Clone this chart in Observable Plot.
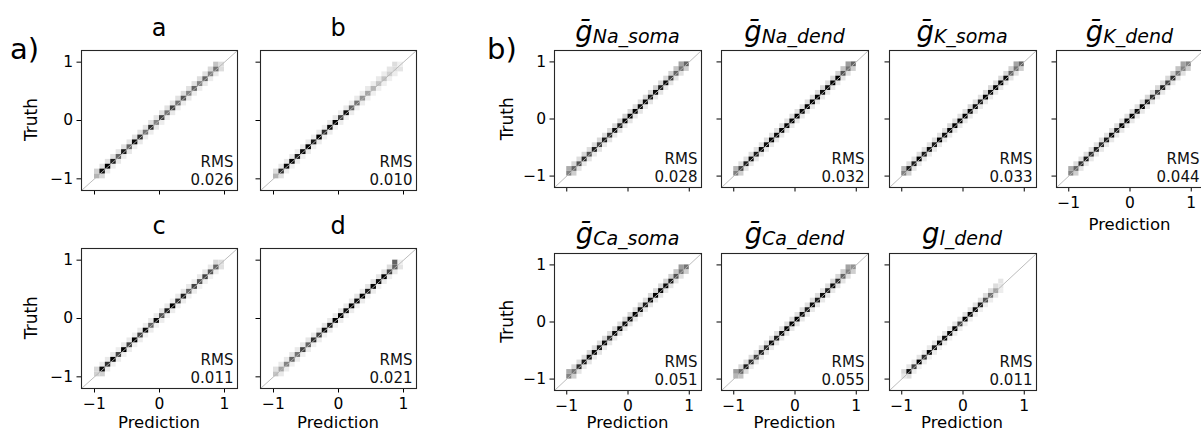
<!DOCTYPE html>
<html><head><meta charset="utf-8">
<script src="https://cdn.jsdelivr.net/npm/d3@7"></script>
<script src="https://cdn.jsdelivr.net/npm/@observablehq/plot@0.6"></script>
<style>
body{margin:0;background:#fff;}
#root{position:relative;width:1201px;height:433px;overflow:hidden;font-family:"DejaVu Sans",sans-serif;color:#000;background:#fff;}
#root .plot{position:absolute;}
#overlay{position:absolute;left:0;top:0;pointer-events:none;}
</style></head><body><div id="root"></div>
<script>
// ---------- data ----------
const panelIds = ["a","b","c","d","Na_soma","Na_dend","K_soma","K_dend","Ca_soma","Ca_dend","l_dend"];
const rmsValues = ["0.026","0.010","0.011","0.021","0.028","0.032","0.033","0.044","0.051","0.055","0.011"];
const tickValues = [-1, 0, 1];
const axisDomain = [-1.2, 1.2];
const histRange = [-1, 1];
const histBins = 24;
// darkness (0 = white, 1 = black) of the cell on the diagonal, bins from -1 to 1
const diagDarkness = [
  [0.35,0.85,1.0,0.8,0.6,0.8,0.6,0.85,0.75,0.55,0.75,0.5,0.7,0.55,0.7,0.55,0.65,0.5,0.6,0.5,0.6,0.5,0.55,0.2],
  [0.35,0.75,0.85,0.95,0.8,0.85,0.95,0.8,0.9,0.75,0.85,0.95,0.7,0.85,0.6,0.55,0.45,0.4,0.35,0.3,0.3,0.25,0.2,0.1],
  [0.25,0.85,0.75,0.9,0.7,0.95,0.7,0.9,0.7,0.85,0.6,0.85,0.65,0.8,0.9,0.75,0.8,0.6,0.7,0.65,0.7,0.65,0.6,0.2],
  [0.3,0.4,0.5,0.6,0.55,0.7,0.6,0.75,0.7,0.85,0.8,0.9,1.0,0.85,0.9,0.85,0.95,0.8,0.9,0.85,0.9,0.7,0.6,0.1],
  [0.5,0.6,0.65,0.75,0.65,0.8,0.7,0.8,0.75,0.85,0.8,0.9,1.0,0.9,0.85,0.85,0.8,0.85,0.8,0.85,0.7,0.6,0.55,0.6],
  [0.5,0.7,0.8,0.85,0.8,0.9,0.85,0.9,0.85,0.9,0.95,0.9,1.0,0.9,1.0,0.9,0.9,0.85,0.85,0.9,1.0,0.65,0.55,0.6],
  [0.5,0.8,0.8,0.9,0.8,0.85,0.8,0.9,0.85,1.0,0.9,0.9,1.0,0.9,0.85,0.8,0.9,0.85,0.9,1.0,0.85,0.6,0.55,0.6],
  [0.5,0.6,0.75,0.8,0.75,0.8,0.75,0.8,0.85,0.8,0.9,0.9,1.0,0.85,0.9,0.8,0.75,0.7,0.8,0.7,0.75,0.55,0.5,0.5],
  [0.5,0.55,0.75,0.8,0.85,1.0,0.8,0.85,0.75,0.85,1.0,0.85,0.85,1.0,0.85,0.8,0.85,0.9,1.0,0.85,0.8,0.65,0.55,0.55],
  [0.35,0.6,0.8,0.75,0.7,0.8,0.75,0.85,0.8,0.85,0.9,1.0,0.9,0.85,0.8,0.85,0.8,0.85,0.8,0.85,0.75,0.6,0.5,0.45],
  [0.15,0.85,0.7,0.9,0.75,0.95,0.8,0.95,0.85,0.9,0.95,0.7,0.95,0.9,0.85,0.8,0.65,0.55,0.4,0.15,0,0,0,0]
];
// darkness of the cell just above the diagonal (truth one bin higher than prediction)
const aboveDarkness = [
  [0.25,0.18,0.18,0.18,0.16,0.18,0.16,0.18,0.18,0.16,0.18,0.16,0.18,0.18,0.16,0.18,0.2,0.18,0.18,0.2,0.18,0.22,0.3,0],
  [0.2,0.14,0.14,0.14,0.12,0.14,0.14,0.12,0.14,0.12,0.14,0.14,0.12,0.14,0.12,0.14,0.12,0.14,0.12,0.14,0.12,0.16,0.2,0],
  [0.22,0.14,0.14,0.14,0.12,0.14,0.14,0.12,0.14,0.12,0.14,0.14,0.16,0.14,0.12,0.14,0.16,0.14,0.12,0.14,0.16,0.14,0.22,0],
  [0.18,0.14,0.14,0.16,0.14,0.14,0.16,0.14,0.14,0.16,0.14,0.14,0.16,0.14,0.14,0.16,0.14,0.16,0.18,0.16,0.18,0.2,0.6,0],
  [0.38,0.22,0.2,0.22,0.2,0.2,0.22,0.2,0.2,0.22,0.22,0.25,0.22,0.2,0.2,0.22,0.22,0.25,0.22,0.22,0.25,0.3,0.4,0],
  [0.35,0.2,0.18,0.2,0.18,0.18,0.2,0.18,0.18,0.2,0.18,0.2,0.18,0.18,0.2,0.18,0.2,0.22,0.2,0.22,0.25,0.3,0.42,0],
  [0.35,0.2,0.18,0.2,0.18,0.18,0.2,0.18,0.2,0.22,0.2,0.18,0.2,0.22,0.2,0.18,0.22,0.22,0.2,0.22,0.22,0.25,0.4,0],
  [0.38,0.2,0.18,0.2,0.18,0.18,0.2,0.18,0.18,0.2,0.18,0.18,0.2,0.18,0.2,0.22,0.2,0.22,0.2,0.22,0.25,0.3,0.4,0],
  [0.38,0.22,0.2,0.2,0.22,0.2,0.2,0.22,0.2,0.22,0.2,0.22,0.22,0.2,0.22,0.2,0.22,0.22,0.22,0.25,0.25,0.3,0.42,0],
  [0.42,0.22,0.2,0.2,0.18,0.2,0.2,0.18,0.2,0.18,0.2,0.2,0.18,0.2,0.18,0.2,0.2,0.18,0.2,0.22,0.22,0.25,0.4,0],
  [0.22,0.16,0.14,0.16,0.14,0.14,0.16,0.14,0.16,0.14,0.16,0.14,0.18,0.16,0.18,0.18,0.2,0.2,0.2,0.16,0,0,0,0]
];
// darkness of the cell just below the diagonal (prediction one bin higher than truth)
const belowDarkness = [
  [0.22,0.14,0.12,0.14,0.12,0.14,0.12,0.14,0.12,0.12,0.14,0.12,0.12,0.14,0.12,0.12,0.14,0.12,0.12,0.14,0.12,0.14,0.2,0],
  [0.18,0.12,0.1,0.12,0.1,0.12,0.1,0.12,0.1,0.12,0.1,0.12,0.1,0.12,0.1,0.12,0.1,0.1,0.1,0.1,0.1,0.12,0.16,0],
  [0.25,0.12,0.1,0.12,0.1,0.12,0.1,0.12,0.1,0.12,0.1,0.12,0.1,0.12,0.1,0.12,0.1,0.12,0.1,0.1,0.1,0.12,0.18,0],
  [0.14,0.12,0.1,0.12,0.1,0.12,0.1,0.12,0.1,0.12,0.1,0.12,0.1,0.12,0.1,0.12,0.1,0.12,0.1,0.12,0.12,0.14,0.16,0],
  [0.26,0.16,0.14,0.16,0.14,0.16,0.14,0.16,0.14,0.16,0.14,0.16,0.14,0.16,0.14,0.16,0.14,0.16,0.14,0.16,0.16,0.18,0.26,0],
  [0.26,0.16,0.14,0.14,0.14,0.14,0.14,0.14,0.14,0.14,0.14,0.14,0.14,0.14,0.14,0.14,0.14,0.14,0.14,0.14,0.16,0.18,0.26,0],
  [0.26,0.16,0.14,0.14,0.14,0.14,0.14,0.14,0.14,0.14,0.14,0.14,0.14,0.14,0.14,0.14,0.14,0.14,0.14,0.14,0.16,0.18,0.26,0],
  [0.26,0.16,0.14,0.14,0.14,0.14,0.14,0.14,0.14,0.14,0.14,0.14,0.14,0.14,0.14,0.14,0.14,0.14,0.14,0.14,0.16,0.18,0.26,0],
  [0.26,0.16,0.14,0.16,0.14,0.16,0.14,0.16,0.14,0.16,0.14,0.16,0.14,0.16,0.14,0.16,0.14,0.16,0.14,0.16,0.16,0.18,0.26,0],
  [0.3,0.2,0.14,0.16,0.14,0.16,0.14,0.16,0.14,0.16,0.14,0.16,0.14,0.16,0.14,0.16,0.14,0.16,0.14,0.16,0.16,0.18,0.26,0],
  [0.2,0.12,0.1,0.12,0.1,0.12,0.1,0.12,0.1,0.12,0.1,0.12,0.1,0.12,0.1,0.12,0.12,0.14,0.12,0,0,0,0,0]
];

// ---------- layout ----------
const LW = 156, LH = 140, RW = 147, RH = 137;
const layout = {
  a:{x:81,y:49.5,w:LW,h:LH,yl:true,xl:false},
  b:{x:260,y:49.5,w:LW,h:LH,yl:false,xl:false},
  c:{x:81,y:247.7,w:LW,h:LH,yl:true,xl:true},
  d:{x:260,y:247.7,w:LW,h:LH,yl:false,xl:true},
  Na_soma:{x:554,y:50.3,w:RW,h:RH,yl:true,xl:false,bar:true},
  Na_dend:{x:721,y:50.3,w:RW,h:RH,yl:false,xl:false,bar:true},
  K_soma:{x:888.5,y:50.3,w:RW,h:RH,yl:false,xl:false,bar:true},
  K_dend:{x:1056,y:50.3,w:RW,h:RH,yl:false,xl:true,bar:true},
  Ca_soma:{x:554,y:252.7,w:RW,h:RH,yl:true,xl:true,bar:true},
  Ca_dend:{x:721,y:252.7,w:RW,h:RH,yl:false,xl:true,bar:true},
  l_dend:{x:888.5,y:252.7,w:RW,h:RH,yl:false,xl:true,bar:false}
};
const ML = 46, MR = 6, MT = 6, MB = 30;
const root = document.getElementById("root");
const fmt = d => d < 0 ? "\u2212" + Math.abs(d) : String(d);

function cellsFor(i) {
  const [lo, hi] = histRange, w = (hi - lo) / histBins, out = [];
  const push = (c, r, v) => { if (v > 0) out.push({x1: lo + c*w, x2: lo + (c+1)*w, y1: lo + r*w, y2: lo + (r+1)*w, v}); };
  for (let k = 0; k < histBins - 1; k++) { push(k, k+1, aboveDarkness[i][k]); push(k+1, k, belowDarkness[i][k]); }
  for (let k = 0; k < histBins; k++) push(k, k, diagDarkness[i][k]);
  return out;
}

panelIds.forEach((id, i) => {
  const L = layout[id];
  const chart = Plot.plot({
    width: ML + L.w + MR, height: MT + L.h + MB,
    marginLeft: ML, marginRight: MR, marginTop: MT, marginBottom: MB,
    x: {domain: axisDomain}, y: {domain: axisDomain},
    color: {type: "linear", scheme: "greys", domain: [0, 0.88], clamp: true},
    style: {fontFamily: "DejaVu Sans", fontSize: "15.5px", background: "transparent", overflow: "visible", color: "#000"},
    marks: [
      Plot.rect(cellsFor(i), {x1: "x1", x2: "x2", y1: "y1", y2: "y2", fill: "v"}),
      Plot.line(axisDomain, {x: d => d, y: d => d, stroke: "#b4b4b4", strokeWidth: 0.9}),
      Plot.axisX({ticks: tickValues, tickSize: 4.5, tickPadding: 5, tickFormat: L.xl ? fmt : () => "", label: null}),
      Plot.axisY({ticks: tickValues, tickSize: 4.5, tickPadding: 4, tickFormat: L.yl ? fmt : () => "", label: null}),
      Plot.frame({stroke: "#262626", strokeWidth: 1.1}),
      Plot.text([rmsValues[i]], {frameAnchor: "bottom-right", text: d => "RMS\n" + d, textAnchor: "end", lineAnchor: "bottom", lineHeight: 1.17, fontSize: 15, dx: -4, dy: -6, fill: "#111"})
    ]
  });
  chart.classList.add("plot");
  chart.style.left = (L.x - ML) + "px";
  chart.style.top = (L.y - MT) + "px";
  root.appendChild(chart);
});

// ---------- titles and labels ----------
const NS = "http://www.w3.org/2000/svg";
const ov = document.createElementNS(NS, "svg");
ov.setAttribute("id", "overlay");
ov.setAttribute("width", 1201); ov.setAttribute("height", 433);
ov.setAttribute("font-family", "DejaVu Sans");
root.appendChild(ov);
function txt(x, y, s, attrs) {
  const t = document.createElementNS(NS, "text");
  t.setAttribute("x", x); t.setAttribute("y", y);
  for (const k in attrs) t.setAttribute(k, attrs[k]);
  if (s != null) t.textContent = s;
  ov.appendChild(t);
  return t;
}
txt(10, 59, "a)", {"font-size": 29});
txt(487, 59, "b)", {"font-size": 29});
panelIds.forEach((id, i) => {
  const L = layout[id];
  const cx = L.x + L.w / 2;
  if (i < 4) {
    txt(cx, L.y - 14, id, {"font-size": 24, "text-anchor": "middle"});
  } else {
    const t = txt(cx, L.y - 9.5, null, {"text-anchor": "middle", "font-style": "italic"});
    const g = document.createElementNS(NS, "tspan");
    g.setAttribute("font-size", 27.5); g.textContent = L.bar ? "\u1E21" : "g";
    const s = document.createElementNS(NS, "tspan");
    s.setAttribute("font-size", 19); s.setAttribute("dy", 2); s.textContent = id;
    t.appendChild(g); t.appendChild(s);
  }
  if (L.yl) {
    const lx = i < 4 ? 31.5 : 507;
    txt(0, 0, "Truth", {"font-size": 17, "text-anchor": "middle", dy: "0.35em", transform: `translate(${lx},${L.y + L.h/2}) rotate(-90)`});
  }
  if (L.xl) {
    txt(cx, Math.min(L.y + L.h + 42.5, 428), "Prediction", {"font-size": 16.5, "text-anchor": "middle"});
  }
});
</script></body></html>
